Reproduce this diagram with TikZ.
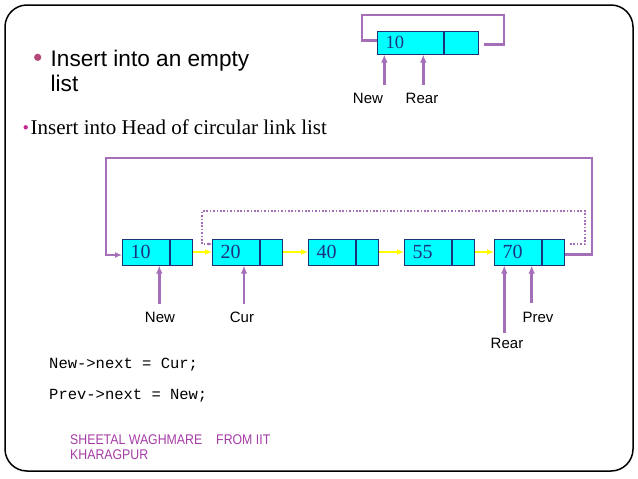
\documentclass[tikz,border=0pt]{standalone}
\usepackage{fontspec}
\setmainfont{Liberation Sans}
\newfontfamily\fserif{Liberation Serif}
\newfontfamily\fmono{Liberation Mono}
\newfontfamily\fnarrow[FakeStretch=0.88]{Liberation Sans}
\usetikzlibrary{arrows.meta,calc}
\definecolor{plink}{RGB}{165,110,185}
\definecolor{cellfill}{RGB}{0,255,255}
\definecolor{cellline}{RGB}{30,50,120}
\definecolor{numcol}{RGB}{30,50,130}
\definecolor{yarrow}{RGB}{255,255,0}
\definecolor{footcol}{RGB}{165,60,165}
\definecolor{bulA}{RGB}{180,70,120}
\definecolor{bulB}{RGB}{200,40,150}
\tikzset{
  cellD/.style={draw=cellline, fill=cellfill, line width=1pt, minimum height=26pt,
    inner xsep=8pt, inner ysep=0pt, text width=31pt, align=left,
    font=\fserif\fontsize{20}{20}\selectfont, text=numcol, anchor=west},
  cellP/.style={draw=cellline, fill=cellfill, line width=1pt, minimum height=26pt,
    minimum width=22pt, inner sep=0pt, anchor=west},
  tcellD/.style={cellD, minimum height=23pt, text width=50pt, font=\fserif\fontsize{18.5}{19}\selectfont},
  tcellP/.style={cellP, minimum height=23pt, minimum width=34pt},
  lab/.style={font=\fontsize{15}{18}\selectfont, inner sep=0pt},
  yarr/.style={draw=yarrow, line width=2.5pt, -{Latex[length=7pt,width=6pt]}},
  ploop/.style={draw=plink, line width=2.5pt},
  pdot/.style={draw=plink, line width=2pt, dash pattern=on 1.6pt off 1.8pt},
  pptr/.style={draw=plink, line width=2.5pt, -{Latex[length=8pt,width=6.5pt]}},
  txt/.style={inner sep=0pt, anchor=base west},
}
\begin{document}
\begin{tikzpicture}[x=1pt,y=-1pt]
\useasboundingbox (0,0) rectangle (638,479);
% slide frame
\draw[line width=1.5pt, rounded corners=22pt] (5,5) rectangle (633,471);

% headings
\fill[bulA] (37.7,57.3) circle (3.6);
\node[txt, font=\fontsize{22.6}{27}\selectfont] (h1a) at (50.5,66) {Insert into an empty};
\node[txt, font=\fontsize{22.6}{27}\selectfont] (h1b) at (50.5,91) {list};
\fill[bulB] (25.7,127.3) circle (2.2);
\node[txt, font=\fserif\fontsize{21}{24}\selectfont] (h2) at (30.5,134.5) {Insert into Head of circular link list};

% top small diagram
\node[tcellD] (t10d) at (377,42.5) {10};
\node[tcellP] (t10p) at (t10d.east) {};
\coordinate (tr) at (504,15);
\coordinate (tl) at (362,15);
\draw[ploop] ([xshift=5pt,yshift=-1.8pt]t10p.east) -| (tr) -| ([yshift=1.8pt]t10d.west -| tl) -- ([yshift=1.8pt]t10d.west);
\node[lab] (tNew) at (368,98.5) {New};
\node[lab] (tRear) at (422,98.5) {Rear};
\coordinate (atNew) at (384.3,85);
\coordinate (atRear) at (423.3,85);
\draw[pptr] (atNew) -- (atNew |- t10d.south);
\draw[pptr] (atRear) -- (atRear |- t10d.south);

% main list
\node[cellD] (n10d) at (122,252) {10};
\node[cellP] (n10p) at (n10d.east) {};
\node[cellD] (n20d) at (212,252) {20};
\node[cellP] (n20p) at (n20d.east) {};
\node[cellD] (n40d) at (308,252) {40};
\node[cellP] (n40p) at (n40d.east) {};
\node[cellD] (n55d) at (404,252) {55};
\node[cellP] (n55p) at (n55d.east) {};
\node[cellD] (n70d) at (494,252) {70};
\node[cellP] (n70p) at (n70d.east) {};

\draw[yarr] (n10p.east) -- (n20d.west);
\draw[yarr] (n20p.east) -- (n40d.west);
\draw[yarr] (n40p.east) -- (n55d.west);
\draw[yarr] (n55p.east) -- (n70d.west);

% solid loop (new link Prev->New)
\coordinate (lr) at (592,158);
\coordinate (ll) at (106,158);
\draw[ploop, -{Latex[length=7pt,width=6pt]}] ([yshift=-2.5pt]n70p.east) -| (lr) -| ([yshift=-3pt]n10d.west -| ll) -- ([yshift=-3pt]n10d.west);

% dotted loop (old link)
\coordinate (dr) at (585,211);
\coordinate (dl) at (202,211);
\draw[pdot, -{Latex[length=3.5pt,width=3.5pt]}] ([xshift=5pt,yshift=8pt]n70p.east) -| (dr) -| ([yshift=8pt]n20d.west -| dl) -- ([yshift=8pt]n20d.west);

% pointer labels
\node[lab] (lNew) at (160,317) {New};
\node[lab] (lCur) at (242,317) {Cur};
\node[lab] (lPrev) at (538,317) {Prev};
\node[lab] (lRear) at (507,343) {Rear};
\coordinate (aNew) at (159.3,304);
\coordinate (aCur) at (244,304);
\coordinate (aRear) at (504.3,333);
\coordinate (aPrev) at (531.7,303);
\draw[pptr] (aNew) -- (aNew |- n10d.south);
\draw[pptr] (aCur) -- (aCur |- n20d.south);
\draw[pptr] (aRear) -- (aRear |- n70d.south);
\draw[pptr] (aPrev) -- (aPrev |- n70d.south);

% code
\node[txt, font=\fmono\fontsize{15.5}{18}\selectfont] (c1) at (49,368) {New->next = Cur;};
\node[txt, font=\fmono\fontsize{15.5}{18}\selectfont] (c2) at (49,399) {Prev->next = New;};

% footer
\node[txt, font=\fnarrow\fontsize{14}{16}\selectfont, text=footcol] (f1) at (70,444) {SHEETAL WAGHMARE\hspace{0.75em} FROM IIT};
\node[txt, font=\fnarrow\fontsize{14}{16}\selectfont, text=footcol] (f2) at (70,459) {KHARAGPUR};
\end{tikzpicture}
\end{document}
